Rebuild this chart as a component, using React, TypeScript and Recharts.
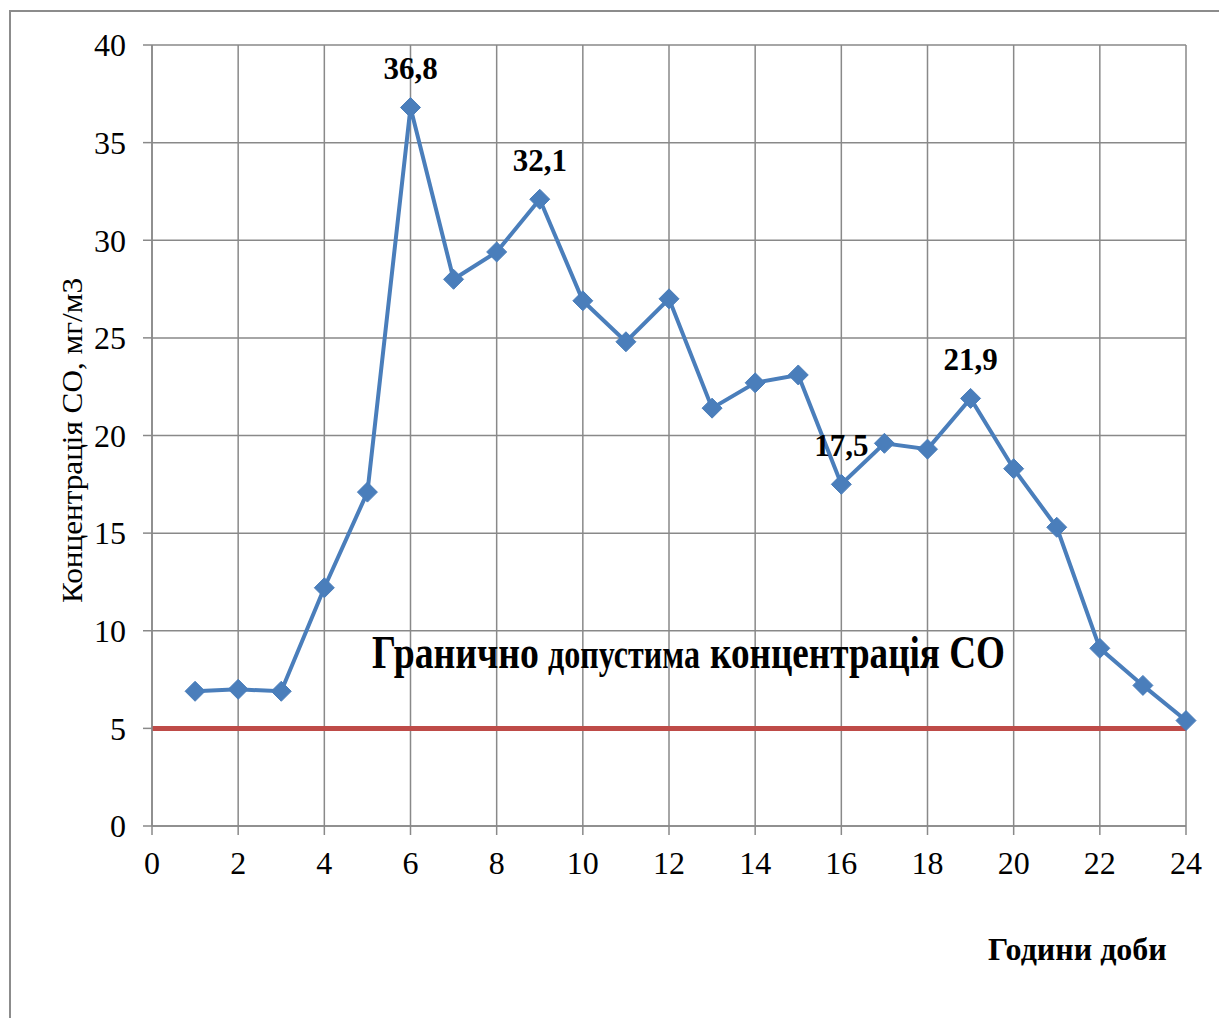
import React, { useLayoutEffect, useRef, useState } from 'react';
import {
  LineChart, Line, XAxis, YAxis, CartesianGrid, ReferenceLine, LabelList, Label,
} from 'recharts';

// Hours of the day and measured CO concentration, mg/m3
const HOURS = [1, 2, 3, 4, 5, 6, 7, 8, 9, 10, 11, 12, 13, 14, 15, 16, 17, 18, 19, 20, 21, 22, 23, 24];
const CO = [6.9, 7.0, 6.9, 12.2, 17.1, 36.8, 28.0, 29.4, 32.1, 26.9, 24.8, 27.0, 21.4, 22.7, 23.1, 17.5, 19.6, 19.3, 21.9, 18.3, 15.3, 9.1, 7.2, 5.4];
// hours whose value is printed above the point
const LABELED_HOURS = [6, 9, 16, 19];
// maximum permissible concentration
const LIMIT = 5;

const X_TICKS = [0, 2, 4, 6, 8, 10, 12, 14, 16, 18, 20, 22, 24];
const Y_TICKS = [0, 5, 10, 15, 20, 25, 30, 35, 40];

const data = HOURS.map((h, i) => ({ hour: h, co: CO[i] }));

const FONT = '"Liberation Serif", "Times New Roman", serif';
const GRID = '#898989';
const BLUE = '#4a7ebb';
const RED = '#be4b48';

const Diamond = (props: any) => {
  const { cx, cy } = props;
  if (cx == null || cy == null) return null;
  const r = 10;
  return (
    <path
      d={`M${cx},${cy - r} L${cx + r},${cy} L${cx},${cy + r} L${cx - r},${cy} Z`}
      fill={BLUE}
      stroke={BLUE}
      strokeWidth={1}
    />
  );
};

const renderXTick = (props: any) => {
  const { x, y, payload } = props;
  return (
    <text key={`x-${payload.value}`} x={x} y={y} dy="0.71em" textAnchor="middle"
      style={{ fontFamily: FONT, fontSize: 32 }} fill="#000">
      {payload.value}
    </text>
  );
};

const renderYTick = (props: any) => {
  const { x, y, payload } = props;
  return (
    <text key={`y-${payload.value}`} x={x} y={y} dy="0.355em" textAnchor="end"
      style={{ fontFamily: FONT, fontSize: 32 }} fill="#000">
      {payload.value}
    </text>
  );
};

const PeakLabel = (props: any) => {
  const { x, y, value, index } = props;
  if (!LABELED_HOURS.includes(HOURS[index])) return null;
  return (
    <text
      x={x}
      y={y - 28}
      textAnchor="middle"
      style={{ fontFamily: FONT, fontWeight: 'bold', fontSize: 31 }}
      fill="#000"
    >
      {String(value).replace('.', ',')}
    </text>
  );
};

// bold text squeezed horizontally to a given width
function NarrowText({ x, y, width, size, children }: { x: number; y: number; width: number; size: number; children: string }) {
  const ref = useRef<SVGTextElement>(null);
  const [sx, setSx] = useState(0.75);
  useLayoutEffect(() => {
    const len = ref.current?.getComputedTextLength();
    if (len) setSx(width / len);
  }, [width, children]);
  return (
    <g transform={`translate(${x} ${y}) scale(${sx} 1)`}>
      <text ref={ref} x={0} y={0} style={{ fontFamily: FONT, fontWeight: 'bold', fontSize: size }} fill="#000">
        {children}
      </text>
    </g>
  );
}

const LimitTitle = (props: any) => {
  const { viewBox } = props;
  const left = viewBox.x + 220;
  const base = viewBox.y - 60;
  return (
    <g>
      <NarrowText x={left} y={base} width={167} size={46}>Гранично</NarrowText>
      <NarrowText x={left + 176} y={base} width={152} size={40}>допустима</NarrowText>
      <NarrowText x={left + 338} y={base} width={295} size={46}>концентрація СО</NarrowText>
    </g>
  );
};

export default function App() {
  return (
    <div style={{ position: 'absolute', left: 0, top: 0, width: 1219, height: 1018, overflow: 'hidden', background: '#fff', fontFamily: FONT }}>
      {/* outer frame */}
      <div style={{ position: 'absolute', left: 9, top: 10, width: 1240, height: 1040, border: '2px solid #8c8c8c' }} />
      <div style={{ position: 'absolute', left: 0, top: 0 }}>
        <LineChart
          width={1219}
          height={1018}
          data={data}
          margin={{ top: 45, right: 33, bottom: 152, left: 82 }}
          style={{ fontFamily: FONT }}
        >
          <CartesianGrid stroke={GRID} strokeWidth={1.5} />
          <XAxis
            dataKey="hour"
            type="number"
            domain={[0, 24]}
            ticks={X_TICKS}
            interval={0}
            height={40}
            tickSize={9}
            tickMargin={16}
            axisLine={{ stroke: GRID, strokeWidth: 1.5 }}
            tickLine={{ stroke: GRID, strokeWidth: 1.5 }}
            tick={renderXTick}
          />
          <YAxis
            type="number"
            domain={[0, 40]}
            ticks={Y_TICKS}
            interval={0}
            width={70}
            tickSize={9}
            tickMargin={17}
            axisLine={{ stroke: GRID, strokeWidth: 1.5 }}
            tickLine={{ stroke: GRID, strokeWidth: 1.5 }}
            tick={renderYTick}
          >
            <Label
              value="Концентрація СО, мг/м3"
              position="insideLeft"
              content={(p: any) => {
                const vb = p.viewBox;
                const x = 72;
                const y = vb.y + vb.height / 2 + 5;
                return (
                  <text
                    x={x}
                    y={y}
                    transform={`rotate(-90 ${x} ${y})`}
                    textAnchor="middle"
                    dominantBaseline="central"
                    style={{ fontFamily: FONT, fontSize: 29 }}
                    textLength={325}
                    lengthAdjust="spacingAndGlyphs"
                    fill="#000"
                  >
                    Концентрація СО, мг/м3
                  </text>
                );
              }}
            />
          </YAxis>
          <ReferenceLine
            y={LIMIT}
            stroke={RED}
            strokeWidth={5}
            ifOverflow="extendDomain"
            label={<LimitTitle />}
          />
          <Line
            type="linear"
            dataKey="co"
            stroke={BLUE}
            strokeWidth={4}
            dot={<Diamond />}
            activeDot={false}
            isAnimationActive={false}
          >
            <LabelList dataKey="co" content={<PeakLabel />} />
          </Line>
        </LineChart>
      </div>
      <div
        style={{
          position: 'absolute',
          left: 988,
          top: 931,
          fontFamily: FONT,
          fontWeight: 'bold',
          fontSize: 32,
          color: '#000',
          whiteSpace: 'nowrap',
        }}
      >
        Години доби
      </div>
    </div>
  );
}
